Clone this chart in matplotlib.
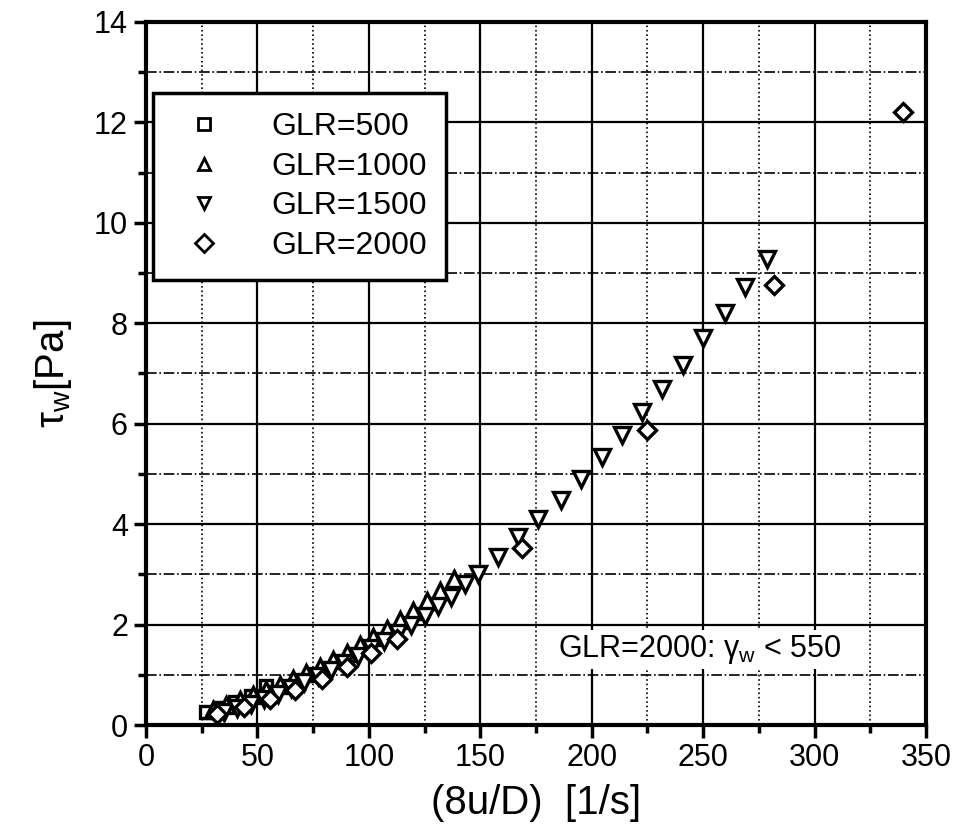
import numpy as np
import matplotlib
matplotlib.use("Agg")
import matplotlib.pyplot as plt
from matplotlib.ticker import MultipleLocator

plt.rcParams['font.family'] = ['Liberation Sans', 'DejaVu Sans']
plt.rcParams['mathtext.fontset'] = 'custom'
plt.rcParams['mathtext.rm'] = 'Liberation Sans'
plt.rcParams['mathtext.it'] = 'Liberation Sans'

# GLR=500 (squares)
x500 = [27, 33, 40, 47, 54]
y500 = [0.25, 0.33, 0.45, 0.58, 0.78]

# GLR=1000 (up triangles)
x1000 = [30, 36, 42, 48, 54, 60, 66, 72, 78, 84, 90, 96, 102, 108, 114, 120, 126, 132, 138]
y1000 = [0.30, 0.40, 0.50, 0.60, 0.70, 0.80, 0.92, 1.04, 1.16, 1.30, 1.44, 1.60, 1.76, 1.92,
         2.10, 2.28, 2.46, 2.66, 2.90]

# GLR=1500 (down triangles)
x1500 = [35, 41, 47, 53, 59, 65, 71, 77, 83, 89, 95, 101, 107, 113, 119, 125, 131, 137, 143,
         149, 158, 167, 176, 186, 195, 204.5, 213.5, 222.5, 231.5, 241, 250, 260, 269, 278.5]
y1500 = [0.25, 0.33, 0.42, 0.52, 0.62, 0.73, 0.85, 0.98, 1.10, 1.24, 1.38, 1.53, 1.68, 1.84,
         2.00, 2.18, 2.36, 2.55, 2.80, 3.00, 3.35, 3.75, 4.10, 4.48, 4.90, 5.33, 5.78, 6.23,
         6.70, 7.17, 7.70, 8.20, 8.73, 9.28]

# GLR=2000 (diamonds)
x2000 = [32, 44, 55.6, 67, 79, 90, 101, 112.5, 168.5, 225, 282, 339.5]
y2000 = [0.22, 0.36, 0.52, 0.70, 0.92, 1.16, 1.43, 1.71, 3.52, 5.88, 8.76, 12.2]

fig = plt.figure(figsize=(9.57, 8.4), dpi=100)
ax = fig.add_axes([0.1526, 0.1369, 0.815, 0.837])

mk = dict(linestyle='none', markerfacecolor='white', markeredgecolor='black',
          markeredgewidth=2.4)
ax.plot(x500, y500, marker='s', markersize=9, label='GLR=500', **mk)
ax.plot(x1000, y1000, marker='^', markersize=12, label='GLR=1000', **mk)
ax.plot(x1500, y1500, marker='v', markersize=12, label='GLR=1500', **mk)
ax.plot(x2000, y2000, marker='D', markersize=9, label='GLR=2000', **mk)

ax.set_xlim(0, 350)
ax.set_ylim(0, 14)
ax.xaxis.set_major_locator(MultipleLocator(50))
ax.xaxis.set_minor_locator(MultipleLocator(25))
ax.yaxis.set_major_locator(MultipleLocator(2))
ax.yaxis.set_minor_locator(MultipleLocator(1))

ax.grid(True, which='major', axis='both', color='black', linewidth=1.6, linestyle='-')
ax.grid(True, which='minor', axis='x', color='black', linewidth=1.2, linestyle=':')
ax.grid(True, which='minor', axis='y', color='black', linewidth=1.2, linestyle='-.')
ax.set_axisbelow(True)

for s in ax.spines.values():
    s.set_linewidth(3)

ax.tick_params(which='major', direction='out', length=9, width=2.5, labelsize=22, pad=4)
ax.tick_params(which='minor', direction='out', length=6, width=2.5)

ax.set_xlabel('(8u/D)  [1/s]', fontsize=29, labelpad=8)
ax.set_ylabel(r'$\mathregular{\tau_w}$[Pa]', fontsize=29, labelpad=14)

ax.text(185, 1.5, r'GLR=2000: $\mathregular{\gamma_w}$ < 550', fontsize=22, va='center',
        ha='left', bbox=dict(facecolor='white', edgecolor='none', pad=2))

leg = ax.legend(loc='upper left', bbox_to_anchor=(0.009, 0.899), fontsize=23,
                fancybox=False, framealpha=1, edgecolor='black', numpoints=1,
                handletextpad=1.1, borderpad=0.6, labelspacing=0.3, borderaxespad=0,
                handlelength=2.0)
leg.get_frame().set_linewidth(2.5)
for h in leg.legend_handles:
    h.set_markeredgewidth(2)
    h.set_markersize(9)

fig.savefig('out.png', dpi=100)
